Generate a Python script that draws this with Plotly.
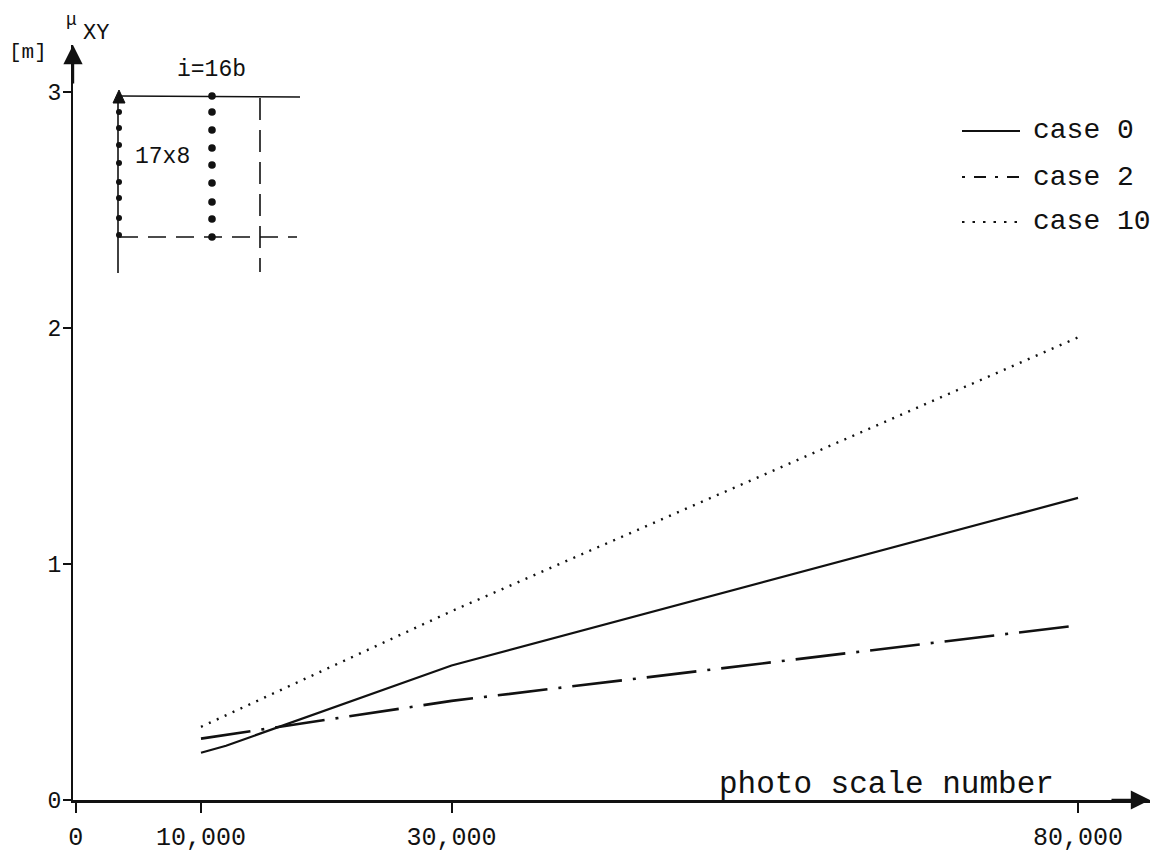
import plotly.graph_objects as go

# ---- data ----
x_case0 = [10000, 12000, 30000, 80000]
y_case0 = [0.20, 0.23, 0.57, 1.28]
x_case2 = [10000, 30000, 80000]
y_case2 = [0.26, 0.42, 0.74]
x_case10 = [10000, 30000, 80000]
y_case10 = [0.31, 0.80, 1.96]
x_tickvals = [0, 10000, 30000, 80000]
x_ticktext = ["0", "10,000", "30,000", "80,000"]
y_tickvals = [0, 1, 2, 3]
y_ticktext = ["0", "1", "2", "3"]
legend_names = ["case 0", "case 2", "case 10"]

FONT = "Liberation Mono"
INK = "#111111"
W, H = 1171, 853
L, R, T, B = 73, 21, 45, 53
PW, PH = W - L - R, H - T - B


def PX(x):
    return (x - L) / PW


def PY(y):
    return (H - B - y) / PH


def text(x, y, s, size, anchor="center"):
    return dict(xref="paper", yref="paper", x=PX(x), y=PY(y), text=s, showarrow=False,
                xanchor=anchor, yanchor="middle", font=dict(family=FONT, size=size, color=INK))


fig = go.Figure()
fig.add_trace(go.Scatter(x=x_case0, y=y_case0, mode="lines", name=legend_names[0],
                         line=dict(color=INK, width=2.2)))
fig.add_trace(go.Scatter(x=x_case2, y=y_case2, mode="lines", name=legend_names[1],
                         line=dict(color=INK, width=2.6, dash="50px,11px,3px,11px")))
fig.add_trace(go.Scatter(x=x_case10, y=y_case10, mode="lines", name=legend_names[2],
                         line=dict(color=INK, width=2.4, dash="2px,6.7px")))

shapes = []
ann = []

# legend drawn by hand
leg_y = [131, 177, 222]
leg_dash = ["solid", "3px,9px,12px,9px", "2.5px,8px"]
for yy, dsh, nm in zip(leg_y, leg_dash, legend_names):
    shapes.append(dict(type="line", xref="paper", yref="paper",
                       x0=PX(962), x1=PX(1020), y0=PY(yy), y1=PY(yy),
                       line=dict(color=INK, width=2, dash=dsh)))
    ann.append(text(1031, yy, nm, 28, "left"))

# inset schematic
thin = dict(color=INK, width=1.6)
shapes += [
    dict(type="line", xref="paper", yref="paper", x0=PX(120), x1=PX(300), y0=PY(96), y1=PY(97), line=thin),
    dict(type="line", xref="paper", yref="paper", x0=PX(118), x1=PX(118), y0=PY(97), y1=PY(273), line=thin),
    dict(type="line", xref="paper", yref="paper", x0=PX(120), x1=PX(297), y0=PY(237), y1=PY(237),
         line=dict(color=INK, width=1.6, dash="18px,10px")),
    dict(type="line", xref="paper", yref="paper", x0=PX(260), x1=PX(260), y0=PY(98), y1=PY(272),
         line=dict(color=INK, width=1.6, dash="22px,10px")),
    dict(type="path", xref="paper", yref="paper",
         path=f"M {PX(113)} {PY(103)} L {PX(125)} {PY(103)} L {PX(119)} {PY(90)} Z",
         fillcolor=INK, line=dict(color=INK, width=1)),
]
left_dots = [112, 128, 145, 163, 182, 198, 218, 235]
right_dots = [96, 112, 130, 148, 165, 183, 202, 219, 237]
for yy in left_dots:
    shapes.append(dict(type="circle", xref="paper", yref="paper", xsizemode="pixel", ysizemode="pixel",
                       xanchor=PX(119), yanchor=PY(yy), x0=-3, x1=3, y0=-3, y1=3,
                       fillcolor=INK, line=dict(width=0)))
for yy in right_dots:
    shapes.append(dict(type="circle", xref="paper", yref="paper", xsizemode="pixel", ysizemode="pixel",
                       xanchor=PX(212), yanchor=PY(yy), x0=-3.8, x1=3.8, y0=-3.8, y1=3.8,
                       fillcolor=INK, line=dict(width=0)))
ann += [
    text(211, 70, "i=16b", 23),
    text(162, 157, "17x8", 23),
]

# axis titles
ann += [
    text(1056, 784, "photo scale number", 31, "right"),
    text(71, 20, "μ", 18),
    text(96, 33, "XY", 22),
    text(28, 53, "[m]", 21),
]

# axis arrow heads
ann += [
    dict(xref="paper", yref="paper", x=1, y=0, ax=-40, ay=0, showarrow=True, text="",
         arrowhead=2, arrowsize=1.6, arrowwidth=2.4, arrowcolor=INK),
    dict(xref="paper", yref="paper", x=0, y=1, ax=0, ay=40, showarrow=True, text="",
         arrowhead=2, arrowsize=1.6, arrowwidth=2.4, arrowcolor=INK),
]

x_lo = -215
x_hi = 85745
fig.update_layout(
    width=W, height=H,
    margin=dict(l=L, r=R, t=T, b=B, pad=0, autoexpand=False),
    paper_bgcolor="white", plot_bgcolor="white",
    showlegend=False,
    shapes=shapes, annotations=ann,
    font=dict(family=FONT, color=INK),
    xaxis=dict(range=[x_lo, x_hi], showline=True, linecolor=INK, linewidth=2.6,
               ticks="outside", ticklen=10, tickwidth=1.6, tickcolor=INK,
               tickvals=x_tickvals, ticktext=x_ticktext, ticklabelstandoff=2,
               tickfont=dict(family=FONT, size=25, color=INK),
               showgrid=False, zeroline=False, automargin=False),
    yaxis=dict(range=[0, PH / 236.0], showline=True, linecolor=INK, linewidth=2.4,
               ticks="outside", ticklen=8, tickwidth=1.8, tickcolor=INK,
               tickvals=y_tickvals, ticktext=y_ticktext, ticklabelstandoff=-3,
               tickfont=dict(family=FONT, size=23, color=INK),
               showgrid=False, zeroline=False, automargin=False),
)

fig.write_html(
    "out.html",
    config={"displayModeBar": False},
    post_script="document.body.style.margin='0';document.body.style.overflow='hidden';",
)
